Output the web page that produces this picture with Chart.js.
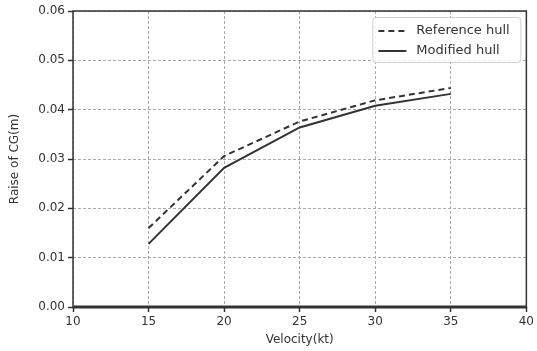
<!DOCTYPE html>
<html>
<head>
<meta charset="utf-8">
<script src="https://cdn.jsdelivr.net/npm/chart.js@4.4.1/dist/chart.umd.min.js"></script>
<style>
  html, body { margin: 0; padding: 0; background: #fff; }
  #wrap { width: 537px; height: 351px; }
</style>
</head>
<body>
<div id="wrap"><canvas id="cgChart" width="537" height="351"></canvas></div>
<script>
// Data
const velocity = [15, 20, 25, 30, 35];
const referenceHull = [0.0160, 0.0306, 0.0376, 0.0419, 0.0444];
const modifiedHull = [0.0128, 0.0282, 0.0364, 0.0408, 0.0432];
const xTicks = [10, 15, 20, 25, 30, 35, 40];
const yTicks = [0, 0.01, 0.02, 0.03, 0.04, 0.05, 0.06];

const pts = ys => velocity.map((v, i) => ({ x: v, y: ys[i] }));
const ink = '#333';
const font = 'DejaVu Sans';

// frame around the plot plus a matplotlib-style legend in the top right corner
const framePlugin = {
  id: 'frame',
  afterDraw(chart) {
    const { ctx, chartArea: a } = chart;
    ctx.save();
    ctx.strokeStyle = ink;
    ctx.lineWidth = 1.5;
    ctx.strokeRect(a.left, a.top, a.right - a.left, a.bottom - a.top);
    ctx.lineWidth = 3;
    ctx.beginPath();
    ctx.moveTo(a.left, a.bottom);
    ctx.lineTo(a.right, a.bottom);
    ctx.stroke();

    // legend
    const bx = a.right - 154, by = a.top + 6, bw = 148, bh = 45;
    ctx.fillStyle = 'rgba(255,255,255,0.85)';
    ctx.strokeStyle = '#d0d0d0';
    ctx.lineWidth = 1;
    ctx.beginPath();
    ctx.roundRect(bx + 0.5, by + 0.5, bw, bh, 3);
    ctx.fill();
    ctx.stroke();
    ctx.font = '13px "' + font + '"';
    ctx.textBaseline = 'middle';
    chart.data.datasets.forEach((ds, i) => {
      const y = by + 14 + i * 20;
      ctx.strokeStyle = ds.borderColor;
      ctx.lineWidth = ds.borderWidth;
      ctx.setLineDash(ds.borderDash || []);
      ctx.beginPath();
      ctx.moveTo(bx + 6, y);
      ctx.lineTo(bx + 34, y);
      ctx.stroke();
      ctx.setLineDash([]);
      ctx.fillStyle = ink;
      ctx.fillText(ds.label, bx + 44, y);
    });
    ctx.restore();
  }
};

const gridOpts = { color: '#aaa', tickLength: 5, tickColor: ink, tickBorderDash: [], tickWidth: 1.5 };

new Chart(document.getElementById('cgChart'), {
  type: 'line',
  data: {
    datasets: [
      { label: 'Reference hull', data: pts(referenceHull), borderColor: ink, borderWidth: 2, borderDash: [6, 4], pointRadius: 0, tension: 0 },
      { label: 'Modified hull', data: pts(modifiedHull), borderColor: ink, borderWidth: 2, pointRadius: 0, tension: 0 }
    ]
  },
  options: {
    responsive: false,
    animation: false,
    layout: { padding: { top: 11, right: 9, left: 0, bottom: 0 } },
    plugins: {
      tooltip: { enabled: false },
      legend: { display: false }
    },
    scales: {
      x: {
        type: 'linear',
        min: 10, max: 40,
        afterBuildTicks: s => { s.ticks = xTicks.map(v => ({ value: v })); },
        afterFit: s => { s.height = 44; },
        grid: gridOpts,
        border: { display: false, dash: [3, 2] },
        ticks: { color: ink, font: { family: font, size: 12 }, padding: 3, maxRotation: 0 },
        title: { display: true, text: 'Velocity(kt)', color: ink, font: { family: font, size: 12 }, padding: { top: 1 } }
      },
      y: {
        min: 0, max: 0.06,
        afterBuildTicks: s => { s.ticks = yTicks.map(v => ({ value: v })); },
        afterFit: s => { s.width = 73; },
        grid: gridOpts,
        border: { display: false, dash: [3, 2] },
        ticks: { color: ink, font: { family: font, size: 12 }, padding: 3, callback: v => v.toFixed(2) },
        title: { display: true, text: 'Raise of CG(m)', color: ink, font: { family: font, size: 12 }, padding: { top: 8, bottom: 0 } }
      }
    }
  },
  plugins: [framePlugin]
});
</script>
</body>
</html>
